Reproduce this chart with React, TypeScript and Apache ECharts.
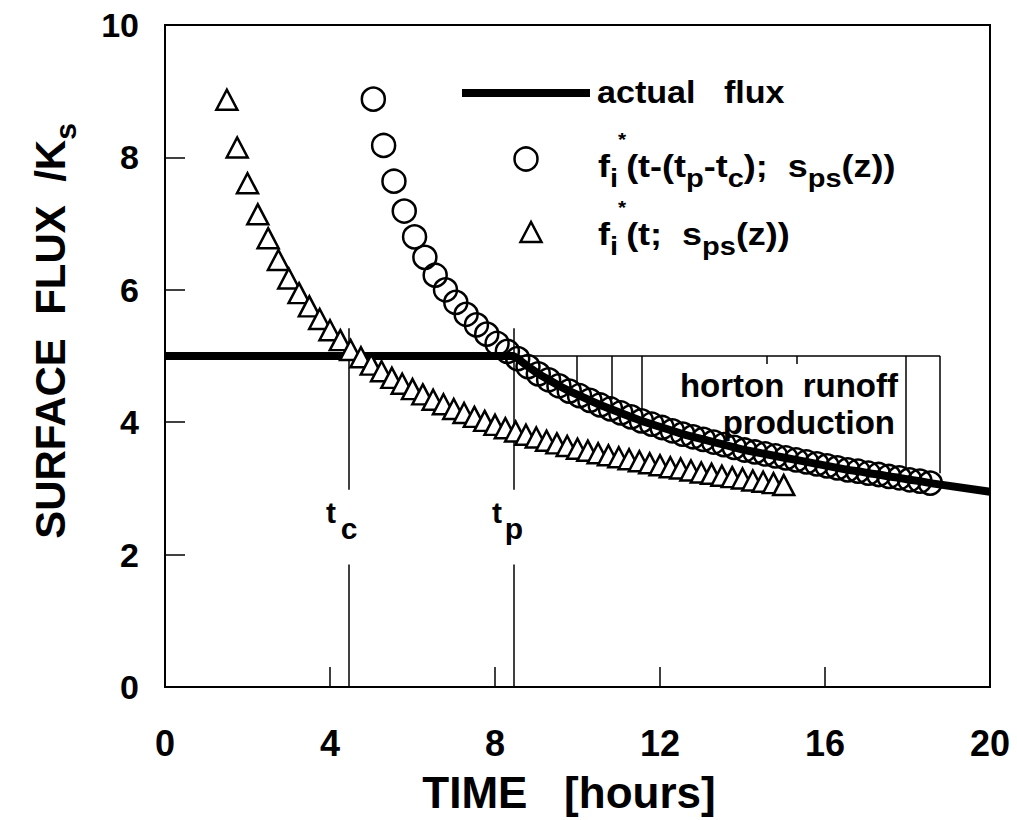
import React, { useEffect, useRef } from "react";
import * as echarts from "echarts";

// ---------- data ----------
const xTicks = [0, 4, 8, 12, 16, 20];
const yTicks = [0, 2, 4, 6, 8, 10];

// f_i*(t; s_ps(z))  (triangles)
const triangleX = [
  1.5, 1.75, 2.0, 2.25, 2.5, 2.75, 3.0, 3.25, 3.5, 3.75, 4.0, 4.25, 4.5, 4.75,
  5.0, 5.25, 5.5, 5.75, 6.0, 6.25, 6.5, 6.75, 7.0, 7.25, 7.5, 7.75, 8.0, 8.25,
  8.5, 8.75, 9.0, 9.25, 9.5, 9.75, 10.0, 10.25, 10.5, 10.75, 11.0, 11.25, 11.5,
  11.75, 12.0, 12.25, 12.5, 12.75, 13.0, 13.25, 13.5, 13.75, 14.0, 14.25, 14.5,
  14.75, 15.0,
];
const triangleY = [
  8.87, 8.15, 7.61, 7.14, 6.78, 6.45, 6.17, 5.95, 5.75, 5.56, 5.39, 5.24, 5.09,
  4.98, 4.87, 4.77, 4.67, 4.58, 4.5, 4.42, 4.34, 4.27, 4.2, 4.14, 4.08, 4.02,
  3.96, 3.91, 3.86, 3.81, 3.77, 3.72, 3.68, 3.64, 3.6, 3.57, 3.53, 3.5, 3.47,
  3.44, 3.41, 3.38, 3.35, 3.32, 3.3, 3.27, 3.24, 3.22, 3.19, 3.17, 3.15, 3.12,
  3.1, 3.08, 3.05,
];

// f_i*(t-(tp-tc); s_ps(z))  (circles)
const circleX = [
  5.05, 5.3, 5.55, 5.8, 6.05, 6.3, 6.55, 6.8, 7.05, 7.3, 7.55, 7.8, 8.05, 8.3,
  8.55, 8.8, 9.05, 9.3, 9.55, 9.8, 10.05, 10.3, 10.55, 10.8, 11.05, 11.3, 11.55,
  11.8, 12.05, 12.3, 12.55, 12.8, 13.05, 13.3, 13.55, 13.8, 14.05, 14.3, 14.55,
  14.8, 15.05, 15.3, 15.55, 15.8, 16.05, 16.3, 16.55, 16.8, 17.05, 17.3, 17.55,
  17.8, 18.05, 18.3, 18.55,
];
const circleY = [
  8.88, 8.18, 7.64, 7.19, 6.8, 6.49, 6.22, 6.0, 5.81, 5.63, 5.47, 5.33, 5.19,
  5.07, 4.96, 4.84, 4.73, 4.64, 4.55, 4.47, 4.4, 4.33, 4.26, 4.2, 4.14, 4.08,
  4.02, 3.97, 3.92, 3.87, 3.82, 3.78, 3.74, 3.7, 3.66, 3.62, 3.58, 3.55, 3.52,
  3.49, 3.46, 3.43, 3.4, 3.37, 3.34, 3.31, 3.28, 3.26, 3.23, 3.21, 3.18, 3.16,
  3.13, 3.11, 3.08,
];

// actual flux: constant until ponding, then follows the shifted curve
const rainRate = 5;
const fluxEndX = 20;
const fluxEndY = 2.95;

// ponding-related markers
const tc = 4.45;
const tp = 8.45;
const tLineLower = [0, 1.85];
const tLineUpper = [2.98, 5.42];

// "horton runoff production" hatching (x position, lower end)
const hatchX = [9.99, 10.84, 11.56, 14.59, 15.32, 17.96, 18.79];
const hatchBottom = [4.58, 4.34, 4.18, 4.88, 4.88, 3.31, 3.23];

const FONT = "'Liberation Sans', Arial, Helvetica, sans-serif";
const NARROW = "'Liberation Sans Narrow', 'Liberation Sans', Arial, sans-serif";

export default function App() {
  const ref = useRef<HTMLDivElement>(null);

  useEffect(() => {
    if (!ref.current) return;
    const chart = echarts.init(ref.current, undefined, { renderer: "svg" });

    const triangles = triangleX.map((x, i) => [x, triangleY[i]]);
    const circles = circleX.map((x, i) => [x, circleY[i]]);
    const flux: number[][] = [
      [0, rainRate],
      [tp, rainRate],
      ...circles.filter((p) => p[0] > tp),
      [fluxEndX, fluxEndY],
    ];

    const segs: any[] = [];
    hatchX.forEach((x, i) => {
      segs.push({ coords: [[x, rainRate], [x, hatchBottom[i]]] });
    });
    segs.push({ coords: [[tp, rainRate], [hatchX[hatchX.length - 1], rainRate]] });
    [tc, tp].forEach((x) => {
      segs.push({ coords: [[x, tLineLower[0]], [x, tLineLower[1]]] });
      segs.push({ coords: [[x, tLineUpper[0]], [x, tLineUpper[1]]] });
    });

    const legendRich = {
      b: { fontSize: 31, fontWeight: "bold", fontFamily: FONT, color: "#000", lineHeight: 76 },
      sub: {
        fontSize: 25,
        fontWeight: "bold",
        fontFamily: FONT,
        color: "#000",
        verticalAlign: "bottom",
        padding: [0, 0, 13, 0],
      },
      sup: {
        fontSize: 18,
        fontWeight: "bold",
        fontFamily: FONT,
        color: "#000",
        verticalAlign: "top",
        padding: [3, 0, 0, 0],
      },
    };

    const option: any = {
      animation: false,
      backgroundColor: "#fff",
      grid: {
        left: 165,
        right: 27,
        top: 25,
        bottom: 133,
        show: true,
        borderColor: "#000",
        borderWidth: 2,
        backgroundColor: "transparent",
      },
      xAxis: {
        type: "value",
        min: xTicks[0],
        max: xTicks[xTicks.length - 1],
        interval: xTicks[1] - xTicks[0],
        axisLine: { show: true, lineStyle: { color: "#000", width: 2 } },
        axisTick: { show: true, inside: true, length: 20, lineStyle: { color: "#000", width: 1.5 } },
        splitLine: { show: false },
        axisLabel: {
          color: "#000",
          fontSize: 36,
          fontWeight: "bold",
          fontFamily: NARROW,
          margin: 38,
        },
      },
      yAxis: {
        type: "value",
        min: yTicks[0],
        max: yTicks[yTicks.length - 1],
        interval: yTicks[1] - yTicks[0],
        axisLine: { show: true, lineStyle: { color: "#000", width: 2 } },
        axisTick: { show: true, inside: true, length: 20, lineStyle: { color: "#000", width: 1.5 } },
        splitLine: { show: false },
        axisLabel: {
          color: "#000",
          fontSize: 34,
          fontWeight: "bold",
          fontFamily: FONT,
          margin: 26,
        },
      },
      series: [
        {
          type: "lines",
          coordinateSystem: "cartesian2d",
          data: segs,
          lineStyle: { color: "#000", width: 1.5, opacity: 1 },
          silent: true,
          z: 1,
        },
        {
          name: "actual flux",
          type: "line",
          data: flux,
          showSymbol: false,
          lineStyle: { color: "#000", width: 8 },
          z: 2,
        },
        {
          name: "f_i*(t; s_ps(z))",
          type: "scatter",
          data: triangles,
          symbol: "triangle",
          symbolSize: [21, 20],
          itemStyle: { color: "#fff", borderColor: "#000", borderWidth: 2.5, opacity: 1 },
          z: 3,
        },
        {
          name: "f_i*(t-(t_p-t_c); s_ps(z))",
          type: "scatter",
          data: circles,
          symbol: "circle",
          symbolSize: 23,
          itemStyle: { color: "rgba(0,0,0,0)", borderColor: "#000", borderWidth: 2.5, opacity: 1 },
          z: 4,
        },
      ],
      graphic: [
        // y-axis title
        {
          type: "text",
          x: 50,
          y: 331,
          rotation: Math.PI / 2,
          style: {
            text: "{b|SURFACE  FLUX  /K}{s|s}",
            align: "center",
            verticalAlign: "middle",
            rich: {
              b: { fontSize: 42, fontWeight: "bold", fontFamily: FONT, color: "#000", lineHeight: 60 },
              s: { fontSize: 30, fontWeight: "bold", fontFamily: FONT, color: "#000", verticalAlign: "bottom" },
            },
          },
        },
        // x-axis title
        {
          type: "text",
          x: 569,
          y: 792,
          style: {
            text: "TIME   [hours]",
            align: "center",
            verticalAlign: "middle",
            fontSize: 44,
            fontWeight: "bold",
            fontFamily: FONT,
            fill: "#000",
          },
        },
        // legend: actual flux
        { type: "line", shape: { x1: 462, y1: 93, x2: 590, y2: 93 }, style: { stroke: "#000", lineWidth: 8 } },
        {
          type: "text",
          x: 597,
          y: 93,
          scaleX: 1.1,
          style: {
            text: "actual   flux",
            align: "left",
            verticalAlign: "middle",
            fontSize: 31,
            fontWeight: "bold",
            fontFamily: FONT,
            fill: "#000",
          },
        },
        // legend: circles
        {
          type: "circle",
          shape: { cx: 526, cy: 159, r: 11.5 },
          style: { fill: "none", stroke: "#000", lineWidth: 2.5 },
        },
        {
          type: "text",
          x: 598,
          y: 166,
          scaleX: 1.16,
          style: {
            text: "{b|f}{sub|i}{sup|*}{b|(t-(t}{sub|p}{b|-t}{sub|c}{b|);  s}{sub|ps}{b|(z))}",
            align: "left",
            verticalAlign: "middle",
            rich: legendRich,
          },
        },
        // legend: triangles
        {
          type: "polygon",
          shape: { points: [[531, 222], [520.5, 242], [541.5, 242]] },
          style: { fill: "#fff", stroke: "#000", lineWidth: 2.5 },
        },
        {
          type: "text",
          x: 598,
          y: 234,
          scaleX: 1.16,
          style: {
            text: "{b|f}{sub|i}{sup|*}{b|(t;  s}{sub|ps}{b|(z))}",
            align: "left",
            verticalAlign: "middle",
            rich: legendRich,
          },
        },
        // horton runoff production
        {
          type: "text",
          x: 898,
          y: 385,
          style: {
            text: "horton  runoff",
            align: "right",
            verticalAlign: "middle",
            fontSize: 33,
            fontWeight: "bold",
            fontFamily: FONT,
            fill: "#000",
          },
        },
        {
          type: "text",
          x: 895,
          y: 422,
          style: {
            text: "production",
            align: "right",
            verticalAlign: "middle",
            fontSize: 33,
            fontWeight: "bold",
            fontFamily: FONT,
            fill: "#000",
          },
        },
        // t_c and t_p labels
        {
          type: "text",
          x: 331,
          y: 512,
          style: { text: "t", align: "center", verticalAlign: "middle", fontSize: 30, fontWeight: "bold", fontFamily: FONT, fill: "#000" },
        },
        {
          type: "text",
          x: 349,
          y: 528,
          style: { text: "c", align: "center", verticalAlign: "middle", fontSize: 30, fontWeight: "bold", fontFamily: FONT, fill: "#000" },
        },
        {
          type: "text",
          x: 497,
          y: 512,
          style: { text: "t", align: "center", verticalAlign: "middle", fontSize: 30, fontWeight: "bold", fontFamily: FONT, fill: "#000" },
        },
        {
          type: "text",
          x: 514,
          y: 528,
          style: { text: "p", align: "center", verticalAlign: "middle", fontSize: 30, fontWeight: "bold", fontFamily: FONT, fill: "#000" },
        },
      ],
    };

    chart.setOption(option);
    return () => chart.dispose();
  }, []);

  return (
    <div
      ref={ref}
      style={{ position: "absolute", left: 0, top: 0, width: 1017, height: 820, background: "#fff" }}
    />
  );
}
